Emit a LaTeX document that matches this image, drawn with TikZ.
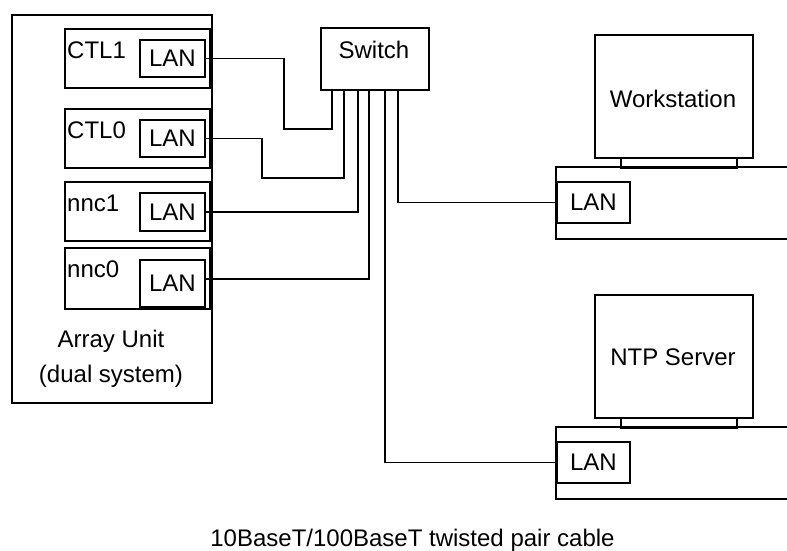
\documentclass[tikz,border=0pt]{standalone}
\usepackage{fontspec}
\setmainfont{Liberation Sans}
\begin{document}
\begin{tikzpicture}[x=1pt,y=-1pt,
  box/.style={draw,line width=1.8pt,inner sep=0pt,anchor=north west,rectangle},
  lbl/.style={inner sep=0pt,font=\fontsize{24}{28}\selectfont},
  wire/.style={line width=1.8pt}]
\clip (0,0) rectangle (787,550);
\fill[white] (0,0) rectangle (787,550);
% Array unit
\node[box,minimum width=200pt,minimum height=388pt] (arr) at (11,14) {};
\node[box,minimum width=145pt,minimum height=59pt] (c1) at (64,28) {};
\node[box,minimum width=145pt,minimum height=59pt] (c0) at (64,108) {};
\node[box,minimum width=145pt,minimum height=59pt] (n1) at (64,181) {};
\node[box,minimum width=145pt,minimum height=61pt] (n0) at (64,247) {};
\node[box,minimum width=65pt,minimum height=37pt,lbl,anchor=north west] (lan1) at (139,39) {LAN};
\node[box,minimum width=65pt,minimum height=37pt,lbl,anchor=north west] (lan0) at (139,119) {LAN};
\node[box,minimum width=65pt,minimum height=38pt,lbl,anchor=north west] (lann1) at (139,192) {LAN};
\node[box,minimum width=65pt,minimum height=47pt,lbl,anchor=north west] (lann0) at (139,259) {LAN};
\node[lbl,anchor=base west] (c1t) at (67,58) {CTL1};
\node[lbl,anchor=base west] (c0t) at (67,138) {CTL0};
\node[lbl,anchor=base west] (n1t) at (67,211) {nnc1};
\node[lbl,anchor=base west] (n0t) at (67,277) {nnc0};
\node[lbl,anchor=base] (au) at (111,347) {Array Unit};
\node[lbl,anchor=base] (ds) at (111,382) {(dual system)};
% Switch
\node[box,minimum width=108pt,minimum height=62pt] (sw) at (320,27) {};
\node[lbl,anchor=base] (swt) at (374,58) {Switch};
% Workstation
\node[box,minimum width=158pt,minimum height=123pt] (ws) at (594,34) {};
\node[lbl] (wst) at (673,99) {Workstation};
\node[box,minimum width=116pt,minimum height=10pt] (wsc) at (620,157) {};
\coordinate (wsb) at (556,167);
\draw[line width=1.8pt] (800,167) -- (wsb) -- (556,239) -- (800,239);
\node[box,minimum width=73pt,minimum height=41pt,lbl,anchor=north west] (wslan) at (556,181) {LAN};
% NTP server
\node[box,minimum width=158pt,minimum height=123pt] (ntp) at (594,294) {};
\node[lbl] (ntpt) at (673,357) {NTP Server};
\node[box,minimum width=116pt,minimum height=10pt] (ntpc) at (620,417) {};
\coordinate (ntpb) at (556,427);
\draw[line width=1.8pt] (800,427) -- (ntpb) -- (556,499) -- (800,499);
\node[box,minimum width=73pt,minimum height=41pt,lbl,anchor=north west] (ntplan) at (556,441) {LAN};
% wires
\draw[wire] (lan1.east) -| (284,129) -- (332,129) -- (332,0 |- sw.south);
\draw[wire] (lan0.east) -| (262,178) -- (344,178) -- (344,0 |- sw.south);
\draw[wire] (lann1.east) -| (358,0 |- sw.south);
\draw[wire] ([yshift=4.5pt]lann0.east) -| (369,0 |- sw.south);
\draw[wire] (ntplan.west) -| (385,0 |- sw.south);
\draw[wire] (wslan.west) -| (398,0 |- sw.south);
% caption
\node[lbl,anchor=base] (cap) at (412.5,546) {10BaseT/100BaseT twisted pair cable};
\end{tikzpicture}
\end{document}
